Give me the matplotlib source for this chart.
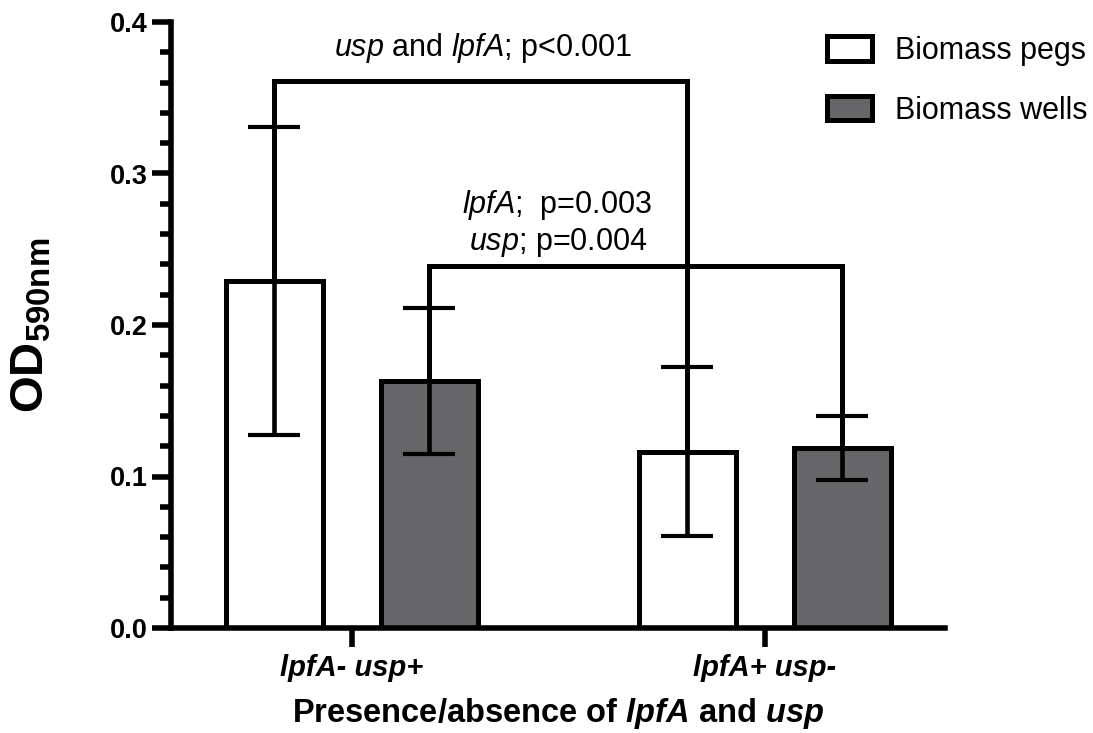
import numpy as np
import matplotlib
matplotlib.use('Agg')
from matplotlib import pyplot as plt
from matplotlib.patches import Patch
from matplotlib.ticker import MultipleLocator, FormatStrFormatter

plt.rcParams['font.family'] = 'Liberation Sans'
plt.rcParams['mathtext.fontset'] = 'custom'
plt.rcParams['mathtext.rm'] = 'Liberation Sans'
plt.rcParams['mathtext.it'] = 'Liberation Sans:italic'
plt.rcParams['mathtext.bf'] = 'Liberation Sans:bold'
plt.rcParams['mathtext.bfit'] = 'Liberation Sans:bold:italic'

# Data (mean +/- SD)
groups = ['lpfA- usp+', 'lpfA+ usp-']
series = ['Biomass pegs', 'Biomass wells']
pegs_mean = [0.229, 0.1165]
pegs_sd = [0.1015, 0.0558]
wells_mean = [0.163, 0.119]
wells_sd = [0.048, 0.0212]
colors = ['white', '#666668']

# heights of the significance brackets
bracket_pegs_y = 0.361
bracket_wells_y = 0.239

fig = plt.figure(figsize=(10.93, 7.33), dpi=100)
ax = fig.add_axes([171 / 1093, 105 / 733, 774 / 1093, 606 / 733])

x = np.arange(len(groups))
off = 0.1875
width = 0.235
lw = 3.6

ax.bar(x - off, pegs_mean, width, color=colors[0], edgecolor='black', linewidth=lw, zorder=2)
ax.bar(x + off, wells_mean, width, color=colors[1], edgecolor='black', linewidth=lw, zorder=2)
ax.errorbar(x - off, pegs_mean, yerr=pegs_sd, fmt='none', ecolor='black',
            elinewidth=3.3, capsize=19, capthick=3.0, zorder=3)
ax.errorbar(x + off, wells_mean, yerr=wells_sd, fmt='none', ecolor='black',
            elinewidth=3.3, capsize=19, capthick=3.0, zorder=3)

# brackets from bar tops
ax.plot([x[0] - off, x[0] - off, x[1] - off, x[1] - off],
        [pegs_mean[0], bracket_pegs_y, bracket_pegs_y, pegs_mean[1]],
        color='black', lw=lw, solid_joinstyle='miter', zorder=4)
ax.plot([x[0] + off, x[0] + off, x[1] + off, x[1] + off],
        [wells_mean[0], bracket_wells_y, bracket_wells_y, wells_mean[1]],
        color='black', lw=lw, solid_joinstyle='miter', zorder=4)

ax.text(0.317, 0.383, r'$\mathit{usp}$ and $\mathit{lpfA}$; p<0.001', fontsize=22,
        ha='center', va='center')
ax.text(0.497, 0.279, r'$\mathit{lpfA}$;  p=0.003', fontsize=22, ha='center', va='center')
ax.text(0.500, 0.2545, r'$\mathit{usp}$; p=0.004', fontsize=22, ha='center', va='center')

ax.set_xlim(-0.438, 1.436)
ax.set_ylim(0, 0.4)
ax.spines['top'].set_visible(False)
ax.spines['right'].set_visible(False)
for s in ['left', 'bottom']:
    ax.spines[s].set_linewidth(4)
ax.yaxis.set_major_locator(MultipleLocator(0.1))
ax.yaxis.set_minor_locator(MultipleLocator(0.02))
ax.yaxis.set_major_formatter(FormatStrFormatter('%.1f'))
ax.tick_params(axis='y', which='major', length=14, width=4, pad=3, labelsize=19.5)
ax.tick_params(axis='y', which='minor', length=8, width=4)
ax.set_xticks(x)
ax.set_xticklabels(groups, fontsize=21, fontweight='bold', fontstyle='italic')
ax.tick_params(axis='x', which='major', length=14, width=4, pad=5)
for lab in ax.get_yticklabels():
    lab.set_fontweight('bold')

ax.set_xlabel(r'Presence/absence of $\mathbfit{lpfA}$ and $\mathbfit{usp}$',
              fontsize=23.5, fontweight='bold', labelpad=10)
ax.set_ylabel(r'$\mathbf{OD_{590nm}}$', fontsize=34)
ax.yaxis.set_label_coords(-0.152, 0.5)

handles = [Patch(facecolor=c, edgecolor='black', linewidth=lw) for c in colors]
fig.legend(handles, series, loc='upper left', bbox_to_anchor=(827 / 1093, 1 - 36 / 733),
           frameon=False, fontsize=22, handlelength=1.47, handleheight=0.85,
           handletextpad=0.75, labelspacing=0.97, borderpad=0, borderaxespad=0)

fig.savefig('out.png', dpi=100)
